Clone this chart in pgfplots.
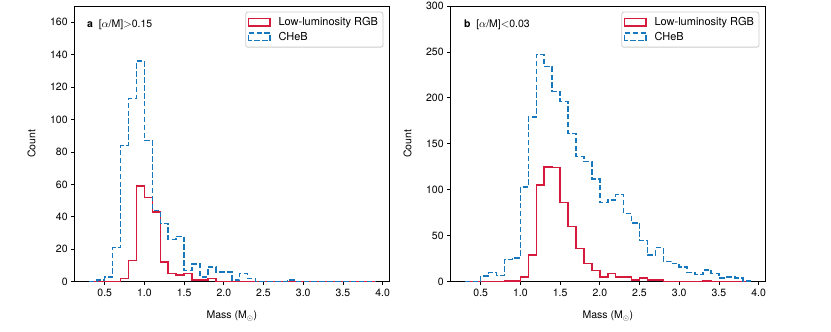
\documentclass[border=0pt]{standalone}
\usepackage{fontspec}
\setmainfont{TeX Gyre Heros}
\usepackage{pgfplots}
\pgfplotsset{compat=1.18}

\definecolor{rgbred}{RGB}{214,26,60}
\definecolor{hebblue}{RGB}{24,120,190}

\pgfplotsset{
  histpanel/.style={
    scale only axis, width=314.3pt, height=275.7pt,
    anchor=south west,
    xmin=0.122, xmax=4.08, ymin=0,
    xtick={0.5,1.0,...,4.0},
    tick align=outside, tick pos=left,
    major tick length=3.5pt,
    axis line style={line width=0.8pt},
    every tick/.style={black, line width=0.8pt},
    /pgf/number format/assume math mode=true,
    xticklabel style={/pgf/number format/.cd, fixed, fixed zerofill, precision=1},
    yticklabel style={/pgf/number format/.cd, fixed},
    xlabel={Mass (M$_\odot$)},
    ylabel={Count},
    x label style={at={(axis description cs:0.5,-0.124)}, anchor=center},
    y label style={at={(axis description cs:-0.137,0.5)}, anchor=center},
    legend style={at={(axis description cs:1,1)}, anchor=north east,
      xshift=-5.7pt, yshift=-5.7pt, draw=black!20, rounded corners=2pt,
      line width=0.8pt, font=\fontsize{11}{13}\selectfont,
      inner xsep=2pt, inner ysep=3pt, row sep=0pt, column sep=4.6pt,
      nodes={inner xsep=3pt, inner ysep=2.4pt}},
    legend cell align=left,
    legend image code/.code={\draw[#1, sharp corners] (0pt,-3.85pt) rectangle (21.7pt,3.85pt);},
  },
  rgbline/.style={const plot, rgbred, line width=1.5pt},
  hebline/.style={const plot, hebblue, line width=1.5pt, dash pattern=on 5.5pt off 2.4pt},
}

\begin{document}
\begin{tikzpicture}[font=\fontsize{10.5}{12}\selectfont]
\useasboundingbox (0pt,0pt) rectangle (831pt,332pt);

% panel a
\begin{axis}[histpanel, at={(74.7pt,50.3pt)}, ymax=170, ytick={0,20,...,160}]
\addplot[rgbline] coordinates {
  (0.3,0)(0.3,0)(0.4,0)(0.5,0)(0.6,0)(0.7,2)(0.8,13)(0.9,59)(1.0,52)(1.1,43)
  (1.2,12)(1.3,5)(1.4,4)(1.5,5)(1.6,1)(1.7,1)(1.8,2)(1.9,0)(2.0,0)(2.1,0)
  (2.2,0)(2.3,0)(2.4,0)(2.5,0)(2.6,0)(2.7,0)(2.8,0)(2.9,0)(3.0,0)(3.1,0)
  (3.2,0)(3.3,0)(3.4,0)(3.5,0)(3.6,0)(3.7,0)(3.8,0)(3.9,0)(3.9,0)
};
\addplot[hebline] coordinates {
  (0.3,0)(0.3,0)(0.4,1)(0.5,3)(0.6,21)(0.7,84)(0.8,113)(0.9,136)(1.0,87)(1.1,44)
  (1.2,36)(1.3,26)(1.4,28)(1.5,7)(1.6,11)(1.7,3)(1.8,9)(1.9,6)(2.0,6)(2.1,1)
  (2.2,5)(2.3,2)(2.4,0)(2.5,0)(2.6,0)(2.7,0)(2.8,1)(2.9,0)(3.0,0)(3.1,0)
  (3.2,0)(3.3,0)(3.4,0)(3.5,0)(3.6,0)(3.7,0)(3.8,0)(3.9,0)(3.9,0)
};
\legend{Low-luminosity RGB, CHeB}
\node[anchor=west, inner sep=0pt] at (axis description cs:0.039,0.931)
  {\textbf{a}\hspace{0.55em}[$\alpha$/M]$>$0.15};
\end{axis}

% panel b
\begin{axis}[histpanel, at={(450.7pt,50.3pt)}, ymax=300, ytick={0,50,...,300}]
\addplot[rgbline] coordinates {
  (0.3,0)(0.3,0)(0.4,0)(0.5,0)(0.6,0)(0.7,0)(0.8,1)(0.9,1)(1.0,5)(1.1,29)
  (1.2,105)(1.3,125)(1.4,124)(1.5,86)(1.6,60)(1.7,36)(1.8,20)(1.9,12)(2.0,5)(2.1,9)
  (2.2,5)(2.3,5)(2.4,2)(2.5,4)(2.6,2)(2.7,2)(2.8,0)(2.9,0)(3.0,0)(3.1,0)
  (3.2,0)(3.3,1)(3.4,0)(3.5,0)(3.6,0)(3.7,0)(3.8,0)(3.9,0)(3.9,0)
};
\addplot[hebline] coordinates {
  (0.3,0)(0.3,0)(0.4,0)(0.5,6)(0.6,10)(0.7,7)(0.8,24)(0.9,26)(1.0,103)(1.1,179)
  (1.2,247)(1.3,234)(1.4,207)(1.5,196)(1.6,161)(1.7,136)(1.8,131)(1.9,112)(2.0,86)(2.1,89)
  (2.2,95)(2.3,74)(2.4,64)(2.5,45)(2.6,29)(2.7,37)(2.8,22)(2.9,20)(3.0,16)(3.1,10)
  (3.2,8)(3.3,13)(3.4,9)(3.5,4)(3.6,5)(3.7,4)(3.8,1)(3.9,1)(3.9,0)
};
\legend{Low-luminosity RGB, CHeB}
\node[anchor=west, inner sep=0pt] at (axis description cs:0.042,0.931)
  {\textbf{b}\hspace{0.55em}[$\alpha$/M]$<$0.03};
\end{axis}
\end{tikzpicture}
\end{document}
